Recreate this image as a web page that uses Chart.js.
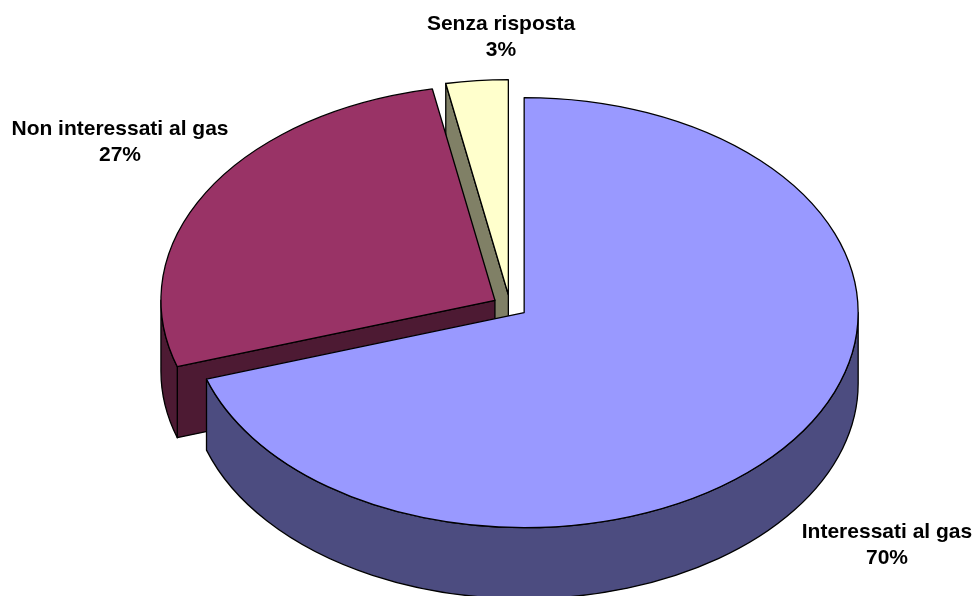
<!DOCTYPE html>
<html>
<head>
<meta charset="utf-8">
<title>Interesse per il gas</title>
<script src="https://cdn.jsdelivr.net/npm/chart.js@4.4.1/dist/chart.umd.min.js"></script>
<style>
  html, body { margin: 0; padding: 0; background: #ffffff; }
  #gasChart { display: block; }
</style>
</head>
<body>
<canvas id="gasChart" width="978" height="596"></canvas>
<script>
// Survey answers
const categories = ['Interessati al gas', 'Non interessati al gas', 'Senza risposta'];
const shares = [70, 27, 3];

// Top face and side wall colours for each slice
const topColors = ['#9999FF', '#993366', '#FFFFCC'];
const sideColors = ['#4C4C80', '#4D1A33', '#808066'];

// Where each label's first line sits (centre x, baseline y)
const labelAnchors = [[887, 538], [120, 135], [501, 30]];

// 3D look
const TILT = 0.644;     // vertical squash of the pie top
const DEPTH = 71;       // pie thickness in px
const EXPLODE = 17.5;   // how far every slice is pulled out
const LINE_HEIGHT = 26;
const EDGE_WIDTH = 1.3;

function rimPoint(slice, angle, drop) {
  const r = slice.r;
  return [
    slice.cx + r * Math.cos(angle),
    slice.cy + r * TILT * Math.sin(angle) + (drop || 0)
  ];
}

// Flat wall on a cut edge of the slice
function drawCutFace(ctx, slice, angle) {
  const [x, y] = rimPoint(slice, angle);
  ctx.beginPath();
  ctx.moveTo(slice.cx, slice.cy);
  ctx.lineTo(x, y);
  ctx.lineTo(x, y + DEPTH);
  ctx.lineTo(slice.cx, slice.cy + DEPTH);
  ctx.closePath();
  ctx.fill();
  ctx.stroke();
}

function drawSides(ctx, slice) {
  const a0 = slice.startAngle;
  const a1 = slice.endAngle;
  ctx.save();
  ctx.fillStyle = sideColors[slice.index];
  ctx.strokeStyle = '#000000';
  ctx.lineWidth = EDGE_WIDTH;
  ctx.lineJoin = 'round';

  // cut faces only show when they turn towards the viewer
  if (Math.cos(a0) < -1e-6) drawCutFace(ctx, slice, a0);
  if (Math.cos(a1) > 1e-6) drawCutFace(ctx, slice, a1);

  // curved outer wall, front half only
  for (let k = -1; k <= 2; k++) {
    const u0 = Math.max(a0, k * 2 * Math.PI);
    const u1 = Math.min(a1, k * 2 * Math.PI + Math.PI);
    if (u1 <= u0) continue;
    ctx.beginPath();
    ctx.ellipse(slice.cx, slice.cy, slice.r, slice.r * TILT, 0, u0, u1, false);
    ctx.ellipse(slice.cx, slice.cy + DEPTH, slice.r, slice.r * TILT, 0, u1, u0, true);
    ctx.closePath();
    ctx.fill();
    ctx.stroke();
  }
  ctx.restore();
}

function drawTop(ctx, slice) {
  // fill: the library's own arc, squashed and pulled out
  ctx.save();
  ctx.translate(slice.px, slice.py);
  ctx.scale(1, TILT);
  ctx.translate(-slice.px, -slice.py);
  ctx.translate(slice.ex, slice.ey);
  slice.arc.draw(ctx);
  ctx.restore();

  // outline
  ctx.save();
  ctx.strokeStyle = '#000000';
  ctx.lineWidth = EDGE_WIDTH;
  ctx.lineJoin = 'round';
  ctx.beginPath();
  ctx.moveTo(slice.cx, slice.cy);
  ctx.ellipse(slice.cx, slice.cy, slice.r, slice.r * TILT, 0, slice.startAngle, slice.endAngle, false);
  ctx.closePath();
  ctx.stroke();
  ctx.restore();
}

const pie3d = {
  id: 'pie3d',
  beforeDatasetsDraw(chart) {
    const ctx = chart.ctx;
    const meta = chart.getDatasetMeta(0);
    const slices = meta.data.map((arc, index) => {
      const p = arc.getProps(['x', 'y', 'startAngle', 'endAngle', 'outerRadius'], true);
      const mid = (p.startAngle + p.endAngle) / 2;
      const ex = Math.cos(mid) * EXPLODE;
      const ey = Math.sin(mid) * EXPLODE;
      return {
        arc, index,
        px: p.x, py: p.y,
        ex, ey,
        cx: p.x + ex,
        cy: p.y + ey * TILT,
        r: p.outerRadius,
        startAngle: p.startAngle,
        endAngle: p.endAngle
      };
    });

    // paint the slices furthest back first
    slices.sort((a, b) => a.cy - b.cy);
    slices.forEach(slice => {
      drawSides(ctx, slice);
      drawTop(ctx, slice);
    });
    return false;
  },
  afterDraw(chart) {
    const ctx = chart.ctx;
    const total = shares.reduce((a, b) => a + b, 0);
    ctx.save();
    ctx.fillStyle = '#000000';
    ctx.font = 'bold 21px "Liberation Sans", Arial, sans-serif';
    ctx.textAlign = 'center';
    ctx.textBaseline = 'alphabetic';
    categories.forEach((name, i) => {
      const [x, y] = labelAnchors[i];
      const pct = Math.round(shares[i] / total * 100) + '%';
      ctx.fillText(name, x, y);
      ctx.fillText(pct, x, y + LINE_HEIGHT);
    });
    ctx.restore();
  }
};

const chart = new Chart(document.getElementById('gasChart').getContext('2d'), {
  type: 'pie',
  data: {
    labels: categories,
    datasets: [{
      data: shares,
      backgroundColor: topColors,
      borderWidth: 0,
      offset: 0
    }]
  },
  options: {
    responsive: false,
    animation: false,
    radius: 334,
    rotation: 0,
    layout: { padding: { left: 42, right: 0, top: 16, bottom: 0 } },
    plugins: {
      legend: { display: false },
      tooltip: { enabled: false }
    }
  },
  plugins: [pie3d]
});
</script>
</body>
</html>
